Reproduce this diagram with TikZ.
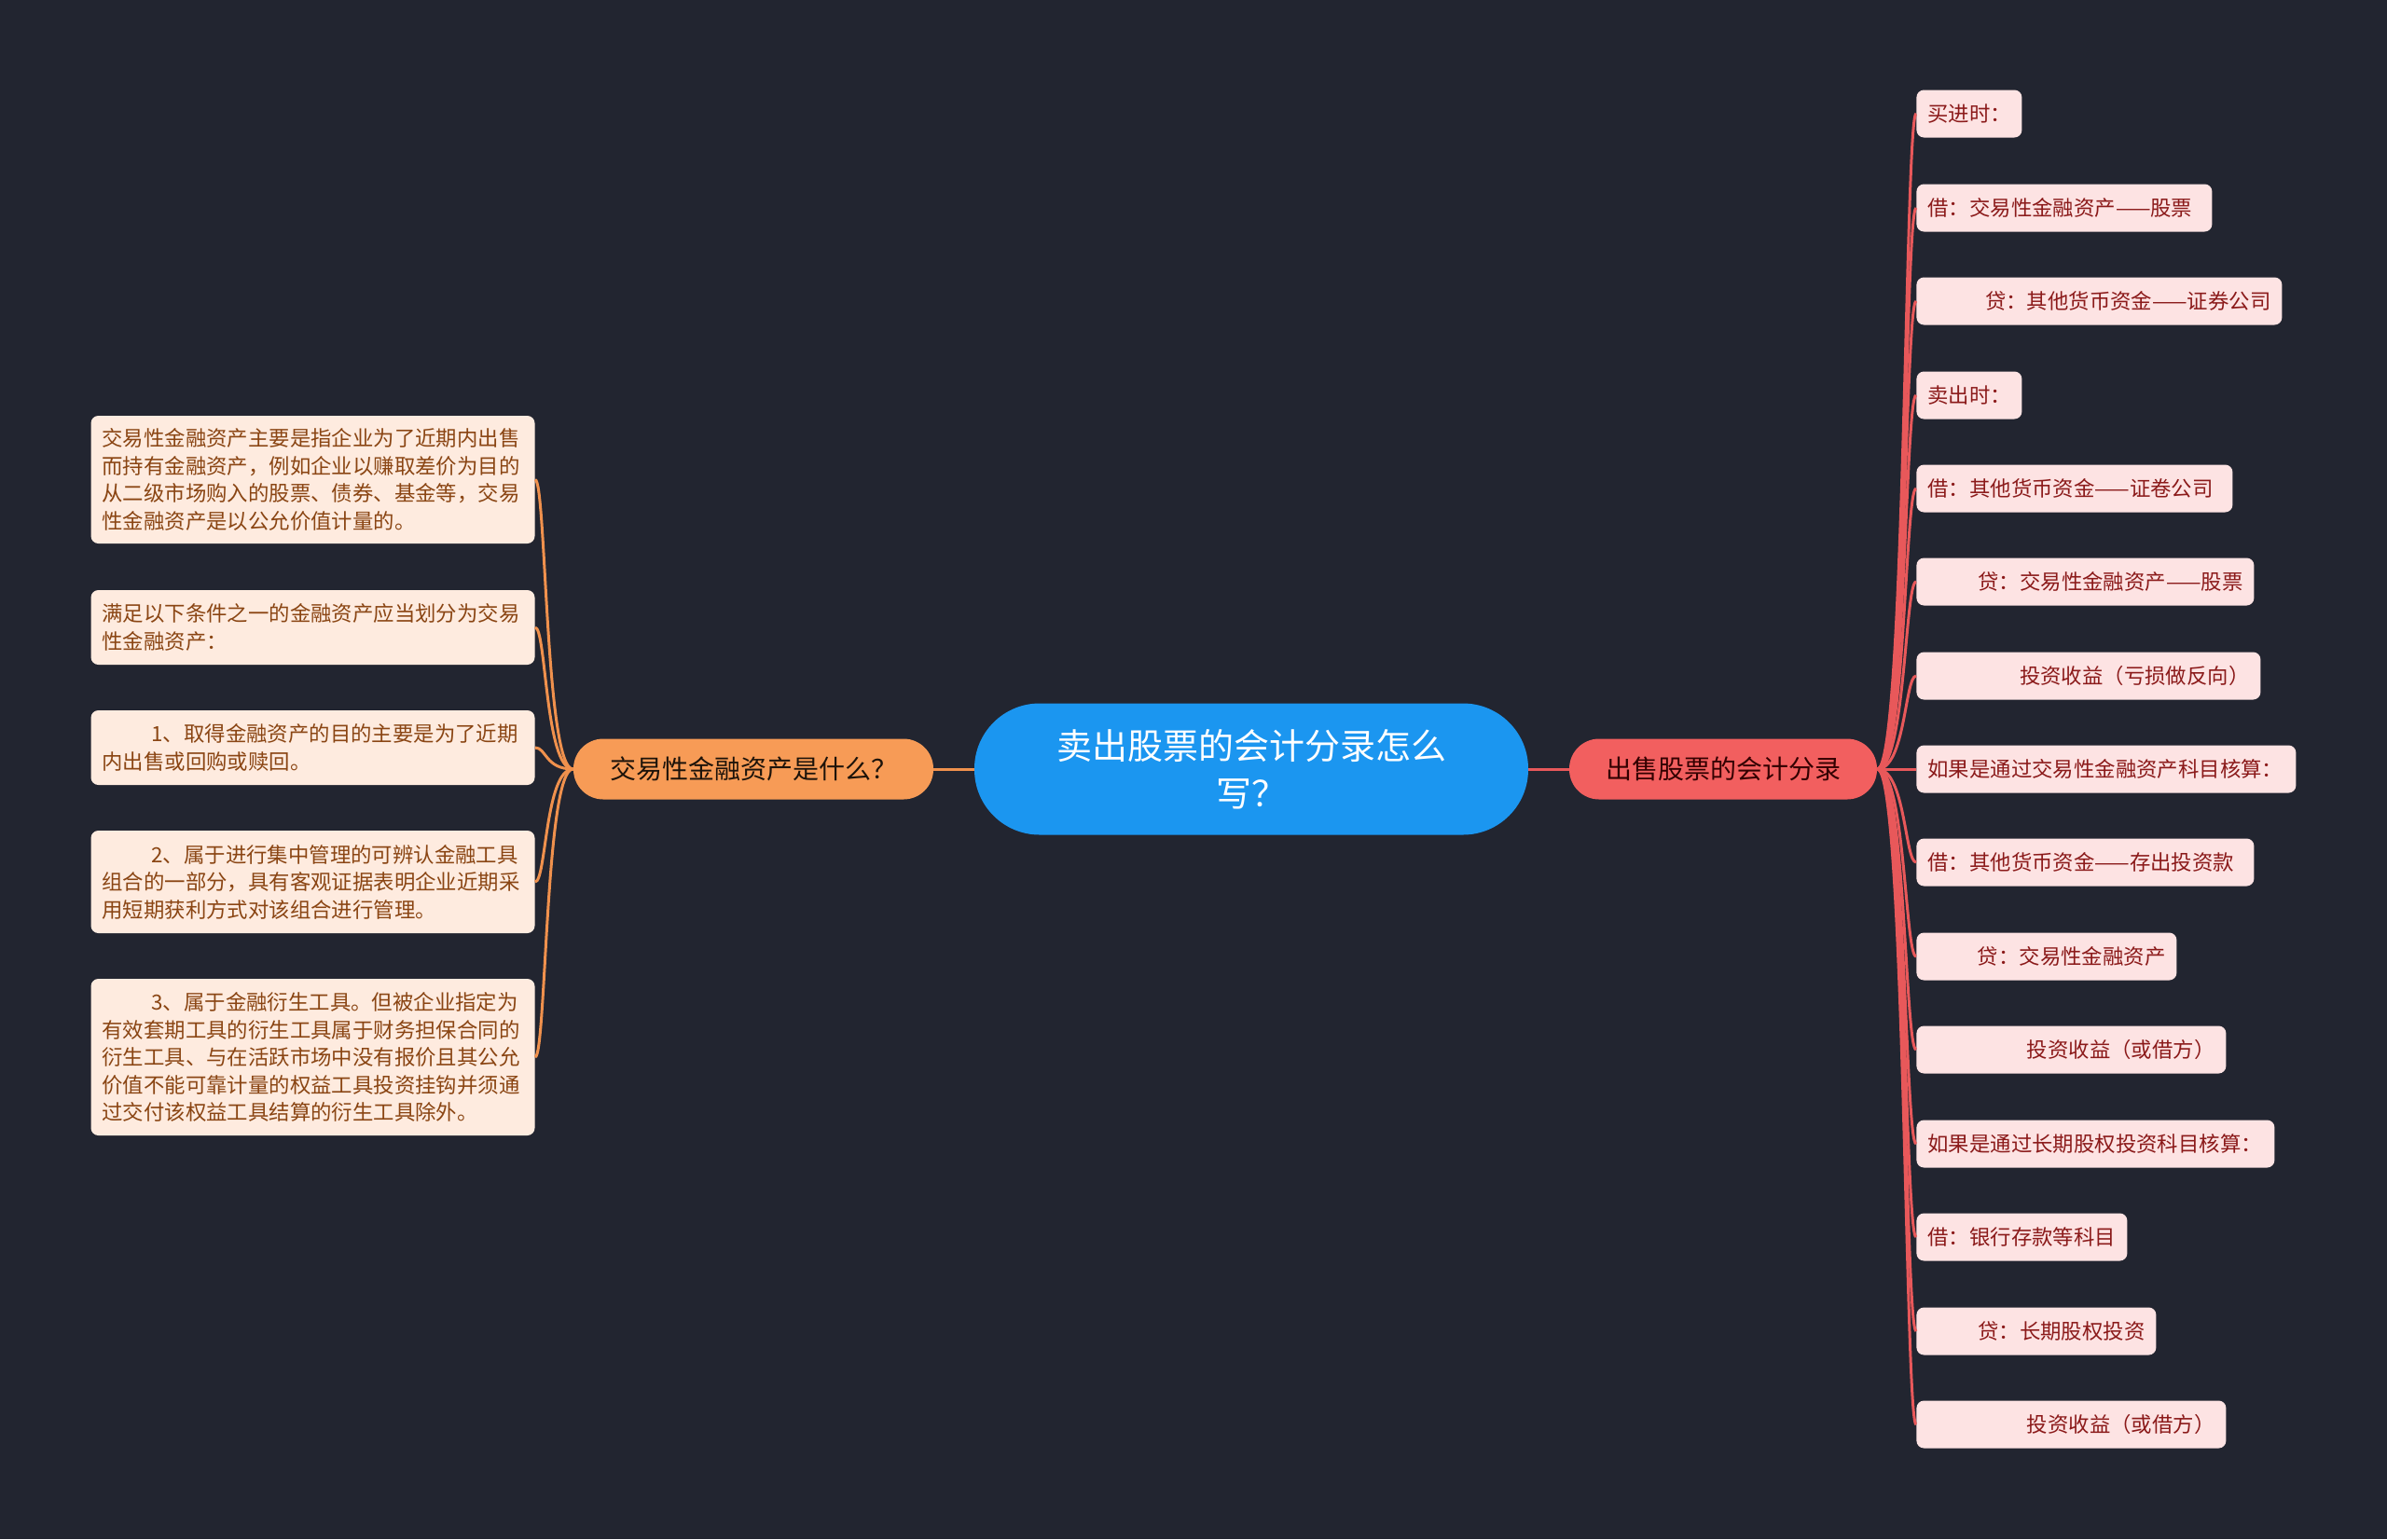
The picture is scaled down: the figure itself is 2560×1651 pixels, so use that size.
\documentclass[tikz,border=0pt]{standalone}
\usepackage{fontspec}
\newfontfamily\cjk{Noto Sans CJK SC}
\definecolor{bg}{HTML}{222530}
\definecolor{cblue}{HTML}{1B96F0}
\definecolor{corange}{HTML}{F79B56}
\definecolor{cred}{HTML}{F25F5F}
\definecolor{lfill}{HTML}{FEEBDF}
\definecolor{ltext}{HTML}{8A4513}
\definecolor{rfill}{HTML}{FDE3E3}
\definecolor{rtext}{HTML}{8B1A1A}
\definecolor{lline}{HTML}{F0914D}
\definecolor{rline}{HTML}{E8585A}
\newcommand\rtxt[3]{\makebox[#1][#2]{#3}}
\begin{document}
\begin{tikzpicture}[x=0.5pt,y=-0.5pt,
  centernode/.style={fill=cblue,text=white,rounded corners=35pt,minimum width=297pt,minimum height=70.5pt,align=center,font=\cjk\fontsize{19}{25.5}\selectfont},
  mainleft/.style={fill=corange,text=black!85!brown,rounded corners=16pt,minimum width=193pt,minimum height=32.5pt,font=\cjk\fontsize{14}{17}\selectfont},
  mainright/.style={fill=cred,text=black!80!red,rounded corners=16pt,minimum width=165pt,minimum height=32.5pt,font=\cjk\fontsize{14}{17}\selectfont},
  lbox/.style={fill=lfill,text=ltext,rounded corners=4pt,text width=226pt,inner xsep=6pt,inner ysep=0pt,align=left,font=\cjk\fontsize{11.2}{14.75}\selectfont},
  rbox/.style={fill=rfill,text=rtext,rounded corners=4pt,inner xsep=6pt,inner ysep=0pt,minimum height=25.5pt,anchor=west,font=\cjk\fontsize{11.2}{14}\selectfont},
  lconn/.style={draw=lline,line width=1.5pt},
  rconn/.style={draw=rline,line width=1.5pt}
]
\fill[bg] (0,0) rectangle (2560,1651);
\useasboundingbox (0,0) rectangle (2560,1651);

% main nodes
\node[centernode] (c) at (1342,825) {卖出股票的会计分录怎么\\写？};
\node[mainleft] (lm) at (808,825) {交易性金融资产是什么？};
\node[mainright] (rm) at (1848,825) {出售股票的会计分录};

% left children
\node[lbox,minimum height=68.5pt] (l1) at (335.5,514.5) {交易性金融资产主要是指企业为了近期内出售\\而持有金融资产，例如企业以赚取差价为目的\\从二级市场购入的股票、债券、基金等，交易\\性金融资产是以公允价值计量的。};
\node[lbox,minimum height=40pt] (l2) at (335.5,673) {满足以下条件之一的金融资产应当划分为交易\\性金融资产：};
\node[lbox,minimum height=40pt] (l3) at (335.5,802) {\hspace*{26.5pt}1、取得金融资产的目的主要是为了近期\\内出售或回购或赎回。};
\node[lbox,minimum height=55pt] (l4) at (335.5,946) {\hspace*{26.5pt}2、属于进行集中管理的可辨认金融工具\\组合的一部分，具有客观证据表明企业近期采\\用短期获利方式对该组合进行管理。};
\node[lbox,minimum height=84pt] (l5) at (335.5,1134) {\hspace*{26.5pt}3、属于金融衍生工具。但被企业指定为\\有效套期工具的衍生工具属于财务担保合同的\\衍生工具、与在活跃市场中没有报价且其公允\\价值不能可靠计量的权益工具投资挂钩并须通\\过交付该权益工具结算的衍生工具除外。};

% right children
\node[rbox] (r1) at (2055,122) {\rtxt{44.5pt}{l}{买进时：}};
\node[rbox] (r2) at (2055,223) {\rtxt{146.5pt}{l}{借：交易性金融资产——股票}};
\node[rbox] (r3) at (2055,323) {\rtxt{184pt}{r}{贷：其他货币资金——证券公司}};
\node[rbox] (r4) at (2055,424) {\rtxt{44.5pt}{l}{卖出时：}};
\node[rbox] (r5) at (2055,524) {\rtxt{157.5pt}{l}{借：其他货币资金——证卷公司}};
\node[rbox] (r6) at (2055,624) {\rtxt{169pt}{r}{贷：交易性金融资产——股票}};
\node[rbox] (r7) at (2055,725) {\rtxt{172.5pt}{r}{投资收益（亏损做反向）}};
\node[rbox] (r8) at (2055,825) {\rtxt{191.5pt}{l}{如果是通过交易性金融资产科目核算：}};
\node[rbox] (r9) at (2055,925) {\rtxt{169pt}{l}{借：其他货币资金——存出投资款}};
\node[rbox] (r10) at (2055,1026) {\rtxt{127.5pt}{r}{贷：交易性金融资产}};
\node[rbox] (r11) at (2055,1126) {\rtxt{154pt}{r}{投资收益（或借方）}};
\node[rbox] (r12) at (2055,1227) {\rtxt{180pt}{l}{如果是通过长期股权投资科目核算：}};
\node[rbox] (r13) at (2055,1327) {\rtxt{101pt}{l}{借：银行存款等科目}};
\node[rbox] (r14) at (2055,1428) {\rtxt{116.5pt}{r}{贷：长期股权投资}};
\node[rbox] (r15) at (2055,1528) {\rtxt{154pt}{r}{投资收益（或借方）}};

% connectors from center
\draw[lconn] (c.west) -- (lm.east);
\draw[rconn] (c.east) -- (rm.west);

% left connectors
\foreach \n in {l1,l2,l3,l4,l5}{
  \draw[lconn] (lm.west) .. controls +(-30,0) and +(12,0) .. (\n.east);
}
% right connectors
\foreach \n in {r1,r2,r3,r4,r5,r6,r7,r8,r9,r10,r11,r12,r13,r14,r15}{
  \draw[rconn] (rm.east) .. controls +(30,0) and +(-12,0) .. (\n.west);
}
\end{tikzpicture}
\end{document}
